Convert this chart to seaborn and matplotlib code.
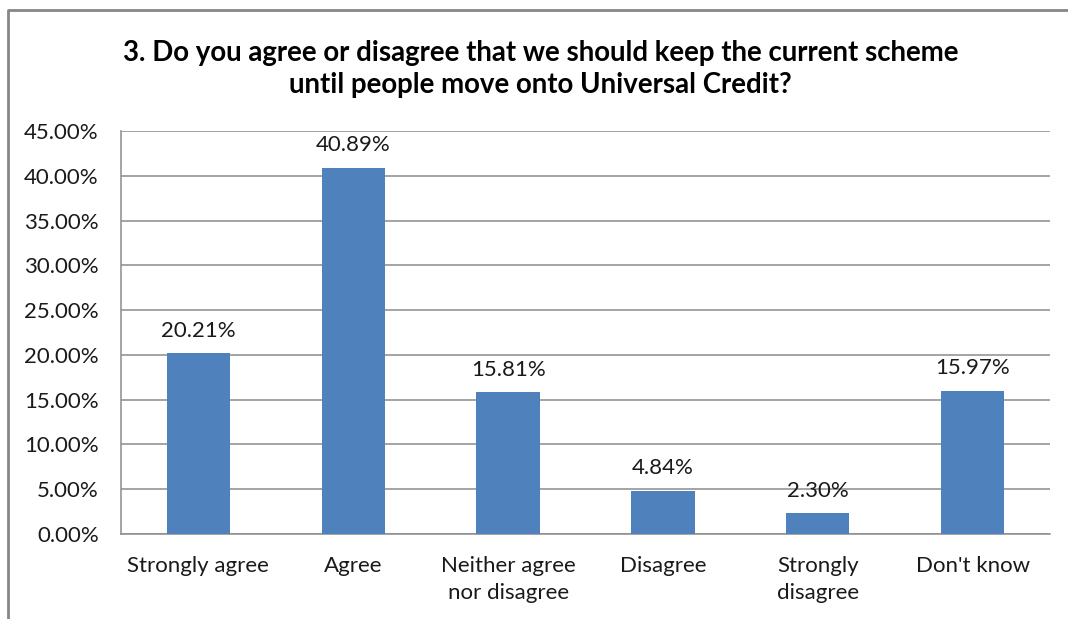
import matplotlib
matplotlib.use("Agg")
import matplotlib.pyplot as plt
from matplotlib.lines import Line2D
from matplotlib.ticker import FuncFormatter, MultipleLocator
import seaborn as sns
import pandas as pd

categories = ["Strongly agree", "Agree", "Neither agree\nnor disagree",
              "Disagree", "Strongly\ndisagree", "Don't know"]
percentages = [20.21, 40.89, 15.81, 4.84, 2.30, 15.97]
title_text = ("3. Do you agree or disagree that we should keep the current scheme\n"
              "until people move onto Universal Credit?")

sns.set_theme(style="white")
plt.rcParams["font.family"] = ["Lato", "DejaVu Sans"]

df = pd.DataFrame({"category": categories, "pct": percentages})

fig = plt.figure(figsize=(10.68, 6.19), dpi=100)
ax = fig.add_axes([121 / 1068, 1 - 534 / 619, (1050 - 121) / 1068, (534 - 131) / 619])

sns.barplot(data=df, x="category", y="pct", color="#4F81BD", saturation=1,
            width=0.41, linewidth=0, ax=ax, zorder=3)

ax.set_ylim(0, 45)
ax.yaxis.set_major_locator(MultipleLocator(5))
ax.yaxis.set_major_formatter(FuncFormatter(lambda v, _: f"{v:.2f}%"))
ax.grid(axis="y", color="#8C8C8C", linewidth=1.1, zorder=0)
ax.set_axisbelow(True)
ax.set_xlabel("")
ax.set_ylabel("")
for side in ("top", "right"):
    ax.spines[side].set_visible(False)
ax.spines["left"].set_color("#8C8C8C")
ax.spines["bottom"].set_color("#8C8C8C")
ax.spines["left"].set_linewidth(1.1)
ax.spines["bottom"].set_linewidth(1.1)
ax.tick_params(axis="both", length=0, labelsize=16, colors="#1A1A1A")
ax.tick_params(axis="x", pad=16)
ax.tick_params(axis="y", pad=16)
for lbl in ax.get_xticklabels():
    lbl.set_linespacing(1.45)

for container in ax.containers:
    ax.bar_label(container, labels=[f"{v:.2f}%" for v in percentages],
                 padding=9, fontsize=16, color="#1A1A1A")

fig.text(0.506, 0.888, title_text, ha="center", va="center", fontsize=19.9,
         fontweight="bold", color="#000000", linespacing=1.3)

# outer chart border
fig.add_artist(Line2D([8 / 1068, 8 / 1068, 1.0], [0.0, 1 - 10 / 619, 1 - 10 / 619],
                      transform=fig.transFigure, color="#868686", linewidth=2))

fig.savefig("out.png", dpi=100, facecolor="white")
